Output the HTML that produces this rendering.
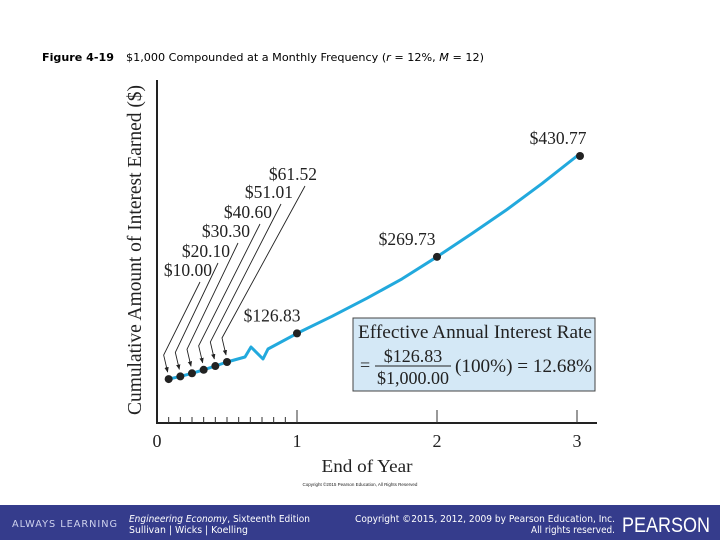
<!DOCTYPE html>
<html><head><meta charset="utf-8"><style>
body{margin:0;width:720px;height:540px;overflow:hidden;background:#fff;font-family:"Liberation Sans",sans-serif}
</style></head><body>
<svg width="720" height="540" viewBox="0 0 720 540" xmlns="http://www.w3.org/2000/svg">
<g font-family="'DejaVu Sans',sans-serif" font-size="10.5" fill="#000">
<text x="42" y="61" font-weight="bold" textLength="72" lengthAdjust="spacingAndGlyphs">Figure 4-19</text>
<text x="126" y="61" textLength="358" lengthAdjust="spacingAndGlyphs">$1,000 Compounded at a Monthly Frequency (<tspan font-style="italic">r</tspan> = 12%, <tspan font-style="italic">M</tspan> = 12)</text>
</g>
<g id="plot" font-family="'Liberation Serif',serif" fill="#222"></g>
<rect x="0" y="505" width="720" height="35" fill="#353c8c"/>
<g fill="#fff" font-family="'DejaVu Sans',sans-serif">
<text x="12" y="527" font-size="10" letter-spacing="1" textLength="106" lengthAdjust="spacingAndGlyphs" fill="#cfd3ee">ALWAYS LEARNING</text>
<text x="129" y="522" font-size="9.5" textLength="181" lengthAdjust="spacingAndGlyphs"><tspan font-style="italic">Engineering Economy</tspan>, Sixteenth Edition</text>
<text x="129" y="533" font-size="9.5" textLength="119" lengthAdjust="spacingAndGlyphs">Sullivan | Wicks | Koelling</text>
<text x="355" y="522" font-size="9.5" textLength="260" lengthAdjust="spacingAndGlyphs">Copyright ©2015, 2012, 2009 by Pearson Education, Inc.</text>
<text x="531" y="533" font-size="9.5" textLength="84" lengthAdjust="spacingAndGlyphs">All rights reserved.</text>
<text x="622" y="532" font-size="21" textLength="88" lengthAdjust="spacingAndGlyphs" font-family="'Liberation Sans',sans-serif">PEARSON</text>
</g>
</svg>
<script>
const years = [0, 1, 2, 3];
const monthValues = [10.00, 20.10, 30.30, 40.60, 51.01, 61.52];
const monthLabels = ["$10.00", "$20.10", "$30.30", "$40.60", "$51.01", "$61.52"];
const yearValues = [126.83, 269.73, 430.77];
const yearLabels = ["$126.83", "$269.73", "$430.77"];
const curveYears = [1, 1.25, 1.5, 1.75, 2, 2.25, 2.5, 2.75, 3];
const curveValues = [126.83, 161.43, 196.15, 231.2, 269.73, 309.0, 347.85, 388.6, 430.77];

const NS = "http://www.w3.org/2000/svg";
const g = document.getElementById("plot");
const X0 = 157, XW = 140, Y0 = 381;
function xs(t){ return X0 + t * XW; }
function ys(v){ return Y0 - 225 * Math.pow(v / 430.77, 1.27); }
function mk(tag, attrs, parent){
  const e = document.createElementNS(NS, tag);
  for (const k in attrs) e.setAttribute(k, attrs[k]);
  (parent || g).appendChild(e);
  return e;
}
const defs = mk("defs", {});
const mar = mk("marker", {id:"ah", viewBox:"0 0 10 10", refX:"9", refY:"5", markerWidth:"6", markerHeight:"6", orient:"auto"}, defs);
mk("path", {d:"M0,1 L10,5 L0,9 z", fill:"#222"}, mar);

let e = mk("line", {x1:X0, y1:80, x2:X0, y2:423, stroke:"#222", "stroke-width":2});


e = mk("line", {x1:X0-1, y1:423, x2:597, y2:423, stroke:"#222", "stroke-width":2});


for (let m = 1; m < 12; m++) {
  e = mk("line", {x1:xs(m/12), y1:417, x2:xs(m/12), y2:423, stroke:"#333", "stroke-width":1});
  
  
}
years.forEach(function(t){
  if (t > 0) {
    e = mk("line", {x1:xs(t), y1:410, x2:xs(t), y2:423, stroke:"#333", "stroke-width":1});
    
    
  }
  e = mk("text", {x:xs(t), y:447, "font-size":18, "text-anchor":"middle"});
  e.textContent = String(t);
  
  
});
e = mk("text", {x:367, y:472, "font-size":17.5, "text-anchor":"middle", textLength:91, lengthAdjust:"spacingAndGlyphs"});
e.textContent = "End of Year";


e = mk("text", {x:360, y:486, "font-size":4.5, "text-anchor":"middle", "font-family":"'Liberation Sans',sans-serif"});
e.textContent = "Copyright ©2015 Pearson Education, All Rights Reserved";


e = mk("text", {x:0, y:0, "font-size":19.5, "text-anchor":"middle", textLength:330, lengthAdjust:"spacingAndGlyphs", transform:"translate(141,250) rotate(-90)"});
e.textContent = "Cumulative Amount of Interest Earned ($)";



let pts = monthValues.map(function(v,i){ return [xs((i+1)/12), ys(v)]; });
const zx = xs(0.5), zy = ys(monthValues[5]);
pts = pts.concat([[zx+18, zy-5],[zx+24, zy-15],[zx+36, zy-3],[zx+41, zy-13]]);
curveYears.forEach(function(t,i){ pts.push([xs(t), ys(curveValues[i])]); });
e = mk("polyline", {points:pts.map(function(p){return p[0].toFixed(1)+","+p[1].toFixed(1);}).join(" "), fill:"none", stroke:"#22a9dd", "stroke-width":3, "stroke-linejoin":"round"});



const labRight = [212, 230, 250, 272, 293, 317];
const labBase = [276, 257, 237, 218, 198, 180];
monthValues.forEach(function(v,i){
  const px = xs((i+1)/12), py = ys(v);
  const sx = labRight[i] - 12, sy = labBase[i] + 6;
  e = mk("polyline", {points:sx+","+sy+" "+(px-5)+","+(py-24)+" "+(px-1)+","+(py-7), fill:"none", stroke:"#222", "stroke-width":0.9, "marker-end":"url(#ah)"});
  
  
  e = mk("circle", {cx:px, cy:py, r:4, fill:"#222"});
  
  
  e = mk("text", {x:labRight[i], y:labBase[i], "font-size":17.5, "text-anchor":"end"});
  e.textContent = monthLabels[i];
  
  
});
yearValues.forEach(function(v,i){
  const px = xs(i+1) + (i==2?3:0), py = ys(v);
  e = mk("circle", {cx:px, cy:py, r:4, fill:"#222"});
  
  
  e = mk("text", {x:px - (i==0?25:i==1?30:22), y:py - 12, "font-size":17.5, "text-anchor":"middle"});
  e.textContent = yearLabels[i];
  
  
});

e = mk("rect", {x:353, y:318, width:242, height:73, fill:"#d4e8f6", stroke:"#444", "stroke-width":1});


e = mk("text", {x:358, y:338, "font-size":19, textLength:234, lengthAdjust:"spacingAndGlyphs"});
e.textContent = "Effective Annual Interest Rate";


e = mk("text", {x:360, y:371, "font-size":18});
e.textContent = "=";


e = mk("text", {x:413, y:362, "font-size":18, "text-anchor":"middle"});
e.textContent = "$126.83";


mk("line", {x1:375, y1:366, x2:451, y2:366, stroke:"#222", "stroke-width":1});
e = mk("text", {x:413, y:384, "font-size":18, "text-anchor":"middle"});
e.textContent = "$1,000.00";


e = mk("text", {x:455, y:372, "font-size":19, textLength:137, lengthAdjust:"spacingAndGlyphs"});
e.textContent = "(100%) = 12.68%";


</script>
</body></html>
